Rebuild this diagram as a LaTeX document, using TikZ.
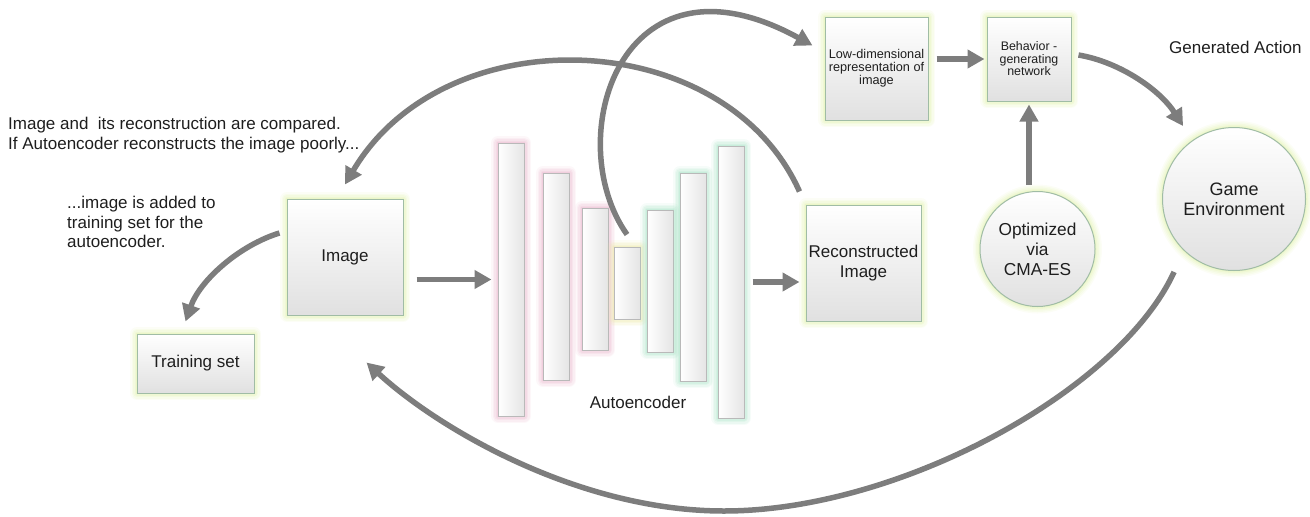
\documentclass[tikz,border=0pt]{standalone}
\usepackage{fontspec}
\setmainfont{Liberation Sans}
\usepackage{xcolor}
\usepackage{tikz}
\usetikzlibrary{arrows.meta}
\tikzset{>={Triangle[length=17pt,width=18pt]}}

\definecolor{ink}{RGB}{30,30,30}
\definecolor{arrowgray}{RGB}{125,125,125}
\definecolor{boxline}{RGB}{160,188,165}
\definecolor{barline}{RGB}{185,185,185}
\definecolor{glowbox}{RGB}{222,240,165}
\definecolor{encglow}{RGB}{232,176,200}
\definecolor{midglow}{RGB}{236,232,165}
\definecolor{decglow}{RGB}{165,225,195}

\begin{document}
\begin{tikzpicture}[x=1pt,y=-1pt,
                    flow/.style={line width=5.5pt, arrowgray, ->},
                    glow/.style={preaction={draw=#1, line width=14pt, opacity=.1, line join=round},
                                 preaction={draw=#1, line width=11pt, opacity=.13, line join=round},
                                 preaction={draw=#1, line width=8pt, opacity=.16, line join=round},
                                 preaction={draw=#1, line width=5pt, opacity=.2, line join=round},
                                 preaction={draw=#1, line width=2.5pt, opacity=.25}},
                    box/.style={draw=boxline, line width=1pt, top color=white, bottom color=black!12,
                                glow=glowbox, inner sep=0pt, align=center, text=ink,
                                font=\fontsize{17}{20}\selectfont},
                    ball/.style={box, circle},
                    bar/.style={draw=barline, line width=1pt, left color=white, right color=black!10,
                                minimum width=26pt, inner sep=0pt},
                    note/.style={text=ink, align=left, inner sep=0pt, font=\fontsize{17}{20}\selectfont},
                   ]

\useasboundingbox (0,0) rectangle (1310,517);

\node[box, minimum width=116pt, minimum height=116pt] (image) at (345,257) {Image};
\node[box, minimum width=117pt, minimum height=59pt] (train) at (195.5,363.5) {Training set};
\node[box, minimum width=115pt, minimum height=116pt] (recon) at (863.5,263) {Reconstructed\\Image};
\node[box, minimum size=103pt, font=\fontsize{12.7}{13}\selectfont] (lowdim) at (876.5,68.5) {Low-dimensional\\representation of\\image};
\node[box, minimum size=84pt, font=\fontsize{12.4}{12.5}\selectfont] (behav) at (1029,59) {Behavior -\\generating\\network};
\node[ball, minimum size=115pt, font=\fontsize{17.3}{20}\selectfont] (optim) at (1037.5,249) {Optimized\\via\\CMA-ES};
\node[ball, minimum size=143pt, font=\fontsize{18}{20}\selectfont] (game) at (1234,199) {Game\\Environment};

% autoencoder layers
\foreach \n/\x/\t/\b/\g in {1/498/143/416/encglow, 2/543/173/380/encglow, 3/582/208/350/encglow,
                            4/614/247/319/midglow,
                            5/647/210/352/decglow, 6/680/173/381/decglow, 7/718/146/418/decglow}
  \node[bar, glow=\g, minimum height=\b-\t] (b\n) at ({\x+13},{(\t+\b)/2}) {};

\node[note] (ae) at (638,402) {Autoencoder};
\node[note, anchor=north west] (cmp) at (8,117) {Image and\ \ its reconstruction are compared.\\If Autoencoder reconstructs the image poorly...};
\node[note, anchor=north west, font=\fontsize{17}{19.5}\selectfont] (add) at (67,196) {...image is added to\\training set for the\\autoencoder.};
\node[note, anchor=north west] (act) at (1169,41) {Generated Action};

\draw[flow, shorten <=13pt, shorten >=6pt] (image.east |- b1.west) -- (b1.west);
\draw[flow, shorten <=8pt, shorten >=6pt] (b7.east) -- (recon.west |- b7.east);
\draw[flow, shorten <=8pt, shorten >=2pt] (lowdim.east |- behav.west) -- (behav.west);
\draw[flow, shorten <=6pt, shorten >=3pt] (optim.north -| behav.south) -- (behav.south);

% bottleneck up to the code
\draw[flow] ([yshift=12pt]b4.north) .. controls (560,140) and (620,-60) .. ([xshift=-12pt,yshift=23pt]lowdim.west);
% reconstruction compared with the image
\draw[flow] ([xshift=-6pt,yshift=13pt]recon.north west) .. controls (725,25) and (445,15) .. ([yshift=14pt]image.north);
\draw[flow] ([xshift=-7pt,yshift=24pt]image.west) .. controls (240,245) and (200,280) .. ([xshift=-10pt,yshift=12pt]train.north);
\draw[flow] ([xshift=7pt,yshift=4pt]behav.east) .. controls (1120,62) and (1160,90) .. ([yshift=22pt]game.north west);

% new frames from the game
\coordinate (low) at (724,511);
\draw[flow] ([xshift=-9pt,yshift=-22pt]game.south west) .. controls (1120,390) and (900,511) .. (low)
            .. controls (580,511) and (440,430) .. ([xshift=-37pt,yshift=-47pt]image.south east);

\end{tikzpicture}
\end{document}
